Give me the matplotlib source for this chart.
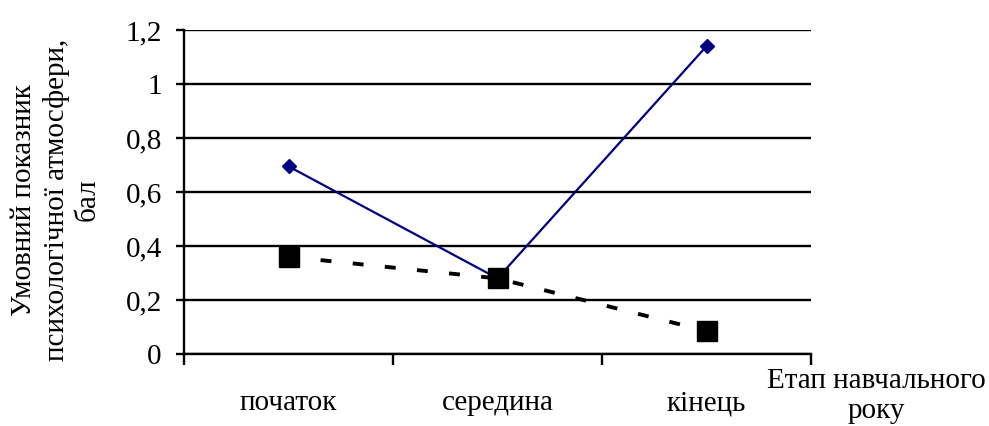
import matplotlib
matplotlib.use("Agg")
import matplotlib.pyplot as plt
from matplotlib.ticker import FixedLocator

plt.rcParams['font.family'] = ['Liberation Serif', 'DejaVu Serif']

categories = ["початок", "середина", "кінець"]
series_a = [0.695, 0.28, 1.14]
series_b = [0.36, 0.28, 0.085]
yticks = [0, 0.2, 0.4, 0.6, 0.8, 1.0, 1.2]
ytick_labels = ["0", "0,2", "0,4", "0,6", "0,8", "1", "1,2"]
xlabel = "Етап навчального\nроку"
ylabel = "Умовний показник\nпсихологічної атмосфери,\nбал"

FS = 21

fig = plt.figure(figsize=(9.89, 4.26), dpi=100)
ax = fig.add_axes([184/989, 1-354/426, (811-184)/989, (354-30)/426])

x = list(range(len(categories)))
ax.plot(x, series_a, color="#000080", lw=1.6, marker="D", markersize=7.5,
        markerfacecolor="#000080", markeredgecolor="#000080", zorder=3)
ax.plot(x, series_b, color="black", lw=2.8, linestyle=(0, (2.8, 5.5)),
        marker="s", markersize=14, markerfacecolor="black",
        markeredgecolor="black", zorder=4)

ax.set_xlim(-0.5, len(categories) - 0.5)
ax.set_ylim(0, 1.2)
ax.set_yticks(yticks)
ax.set_yticklabels(ytick_labels)
ax.set_xticks(x)
ax.set_xticklabels(categories)
ax.xaxis.set_minor_locator(FixedLocator([i - 0.5 for i in range(len(categories) + 1)]))

ax.tick_params(axis="x", which="major", length=0, pad=26, labelsize=FS)
ax.tick_params(axis="x", which="minor", length=8, width=1.7, direction="out")
ax.tick_params(axis="y", length=6, width=1.7, pad=10, labelsize=FS)

ax.yaxis.grid(True, color="black", lw=1.7)
ax.set_axisbelow(True)
for s in ["top", "right"]:
    ax.spines[s].set_visible(False)
for s in ["left", "bottom"]:
    ax.spines[s].set_linewidth(1.7)
    ax.spines[s].set_color("black")

fig.text(876/989, 1-396/426, xlabel, ha="center", va="center", fontsize=FS,
         linespacing=1.2)
fig.text(56/989, 1-200/426, ylabel, ha="center", va="center", fontsize=FS,
         rotation=90, linespacing=1.25)

fig.savefig("out.png", dpi=100)
